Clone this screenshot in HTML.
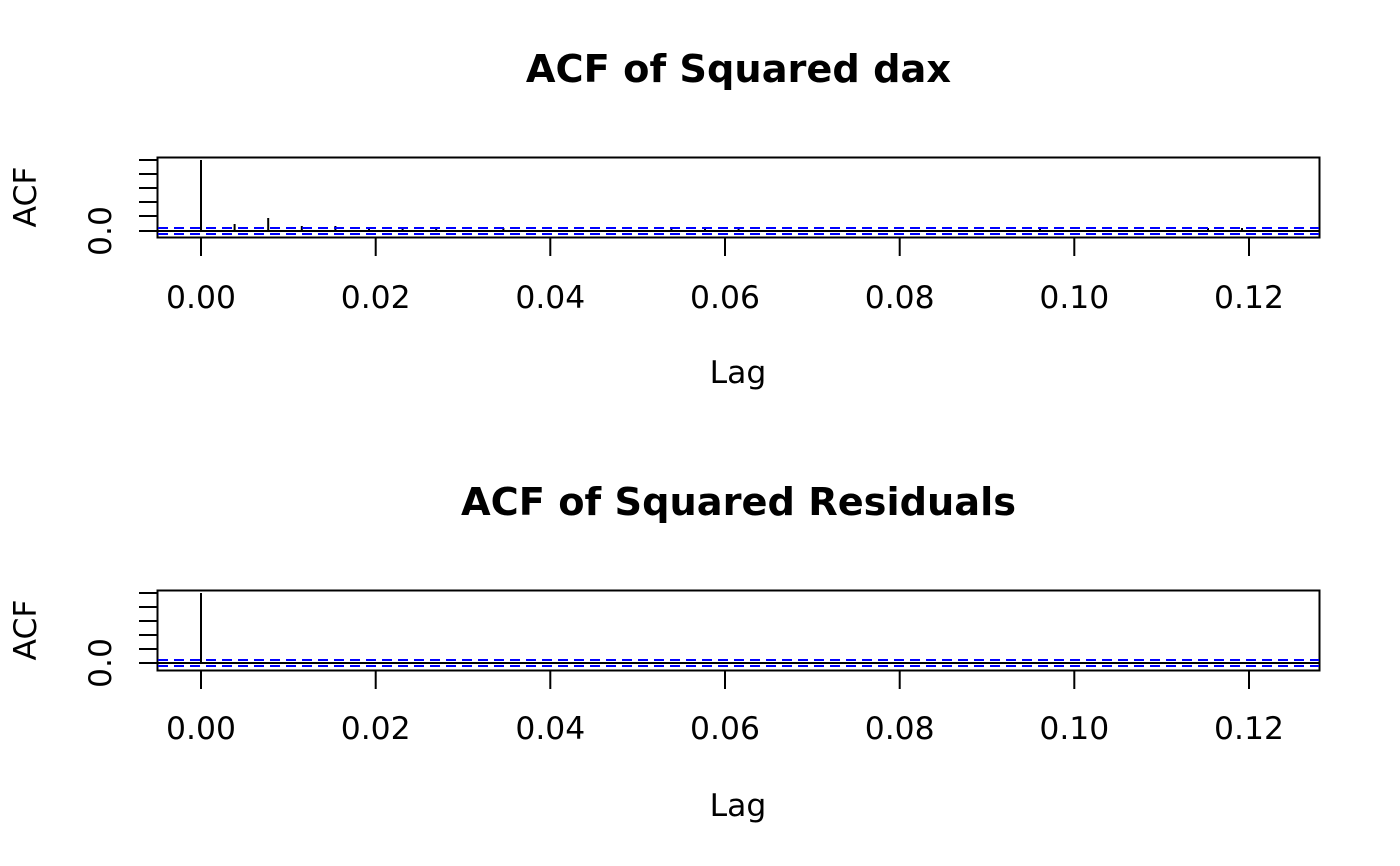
<!DOCTYPE html>
<html><head><meta charset="utf-8"><style>body{margin:0;background:#fff}svg{display:block}text{font-family:"DejaVu Sans","Liberation Sans",sans-serif;fill:#000}</style></head>
<body>
<svg width="1400" height="866" viewBox="0 0 1400 866" xmlns="http://www.w3.org/2000/svg">
<!-- Plot 1 -->
<text x="738.5" y="82" font-size="38.3" font-weight="bold" text-anchor="middle">ACF of Squared dax</text>
<rect x="157.5" y="157.5" width="1162" height="80" fill="none" stroke="#000" stroke-width="2"/>
<g stroke="#000" stroke-width="2">
<line x1="139" y1="160" x2="157" y2="160"/><line x1="139" y1="174" x2="157" y2="174"/><line x1="139" y1="188" x2="157" y2="188"/><line x1="139" y1="202" x2="157" y2="202"/><line x1="139" y1="216" x2="157" y2="216"/><line x1="139" y1="231" x2="157" y2="231"/>
<line x1="157" y1="231" x2="1320" y2="231"/>
<line x1="201" y1="160" x2="201" y2="231"/>
<line x1="234.6" y1="224" x2="234.6" y2="231"/>
<line x1="268.2" y1="218" x2="268.2" y2="231"/>
<line x1="301.8" y1="226" x2="301.8" y2="231"/>
<line x1="335.4" y1="226" x2="335.4" y2="231"/>
<line x1="369" y1="228" x2="369" y2="231"/>
<line x1="402.6" y1="228" x2="402.6" y2="231"/>
<line x1="436.2" y1="228" x2="436.2" y2="231"/>
<line x1="503.4" y1="228" x2="503.4" y2="231"/>
<line x1="671.4" y1="228" x2="671.4" y2="231"/>
<line x1="705" y1="228" x2="705" y2="231"/>
<line x1="738.6" y1="227" x2="738.6" y2="231"/>
<line x1="1040" y1="228" x2="1040" y2="231"/>
<line x1="1208" y1="228" x2="1208" y2="231"/>
<line x1="1242" y1="228" x2="1242" y2="231"/>
</g>
<g stroke="#0000ff" stroke-width="2" stroke-dasharray="10,6">
<line x1="158" y1="228" x2="1319" y2="228"/><line x1="158" y1="234" x2="1319" y2="234"/>
</g>
<g stroke="#000" stroke-width="2">
<line x1="201" y1="237" x2="201" y2="256"/><line x1="375.7" y1="237" x2="375.7" y2="256"/><line x1="550.3" y1="237" x2="550.3" y2="256"/><line x1="725" y1="237" x2="725" y2="256"/><line x1="899.7" y1="237" x2="899.7" y2="256"/><line x1="1074.3" y1="237" x2="1074.3" y2="256"/><line x1="1249" y1="237" x2="1249" y2="256"/>
</g>
<g font-size="31.4" text-anchor="middle">
<text x="201" y="308">0.00</text><text x="375.7" y="308">0.02</text><text x="550.3" y="308">0.04</text><text x="725" y="308">0.06</text><text x="899.7" y="308">0.08</text><text x="1074.3" y="308">0.10</text><text x="1249" y="308">0.12</text>
<text x="738" y="383">Lag</text>
<text transform="translate(36,197) rotate(-90)">ACF</text>
<text transform="translate(111,231) rotate(-90)">0.0</text>
</g>
<!-- Plot 2 -->
<text x="738.5" y="515" font-size="38.3" font-weight="bold" text-anchor="middle">ACF of Squared Residuals</text>
<rect x="157.5" y="590.5" width="1162" height="80" fill="none" stroke="#000" stroke-width="2"/>
<g stroke="#000" stroke-width="2">
<line x1="139" y1="593" x2="157" y2="593"/><line x1="139" y1="607" x2="157" y2="607"/><line x1="139" y1="621" x2="157" y2="621"/><line x1="139" y1="635" x2="157" y2="635"/><line x1="139" y1="649" x2="157" y2="649"/><line x1="139" y1="663" x2="157" y2="663"/>
<line x1="157" y1="663" x2="1320" y2="663"/>
<line x1="201" y1="593" x2="201" y2="663"/>
</g>
<g stroke="#0000ff" stroke-width="2" stroke-dasharray="10,6">
<line x1="158" y1="660" x2="1319" y2="660"/><line x1="158" y1="666" x2="1319" y2="666"/>
</g>
<g stroke="#000" stroke-width="2">
<line x1="201" y1="670" x2="201" y2="689"/><line x1="375.7" y1="670" x2="375.7" y2="689"/><line x1="550.3" y1="670" x2="550.3" y2="689"/><line x1="725" y1="670" x2="725" y2="689"/><line x1="899.7" y1="670" x2="899.7" y2="689"/><line x1="1074.3" y1="670" x2="1074.3" y2="689"/><line x1="1249" y1="670" x2="1249" y2="689"/>
</g>
<g font-size="31.4" text-anchor="middle">
<text x="201" y="739">0.00</text><text x="375.7" y="739">0.02</text><text x="550.3" y="739">0.04</text><text x="725" y="739">0.06</text><text x="899.7" y="739">0.08</text><text x="1074.3" y="739">0.10</text><text x="1249" y="739">0.12</text>
<text x="738" y="816">Lag</text>
<text transform="translate(36,630) rotate(-90)">ACF</text>
<text transform="translate(111,663) rotate(-90)">0.0</text>
</g>
</svg>
</body></html>
